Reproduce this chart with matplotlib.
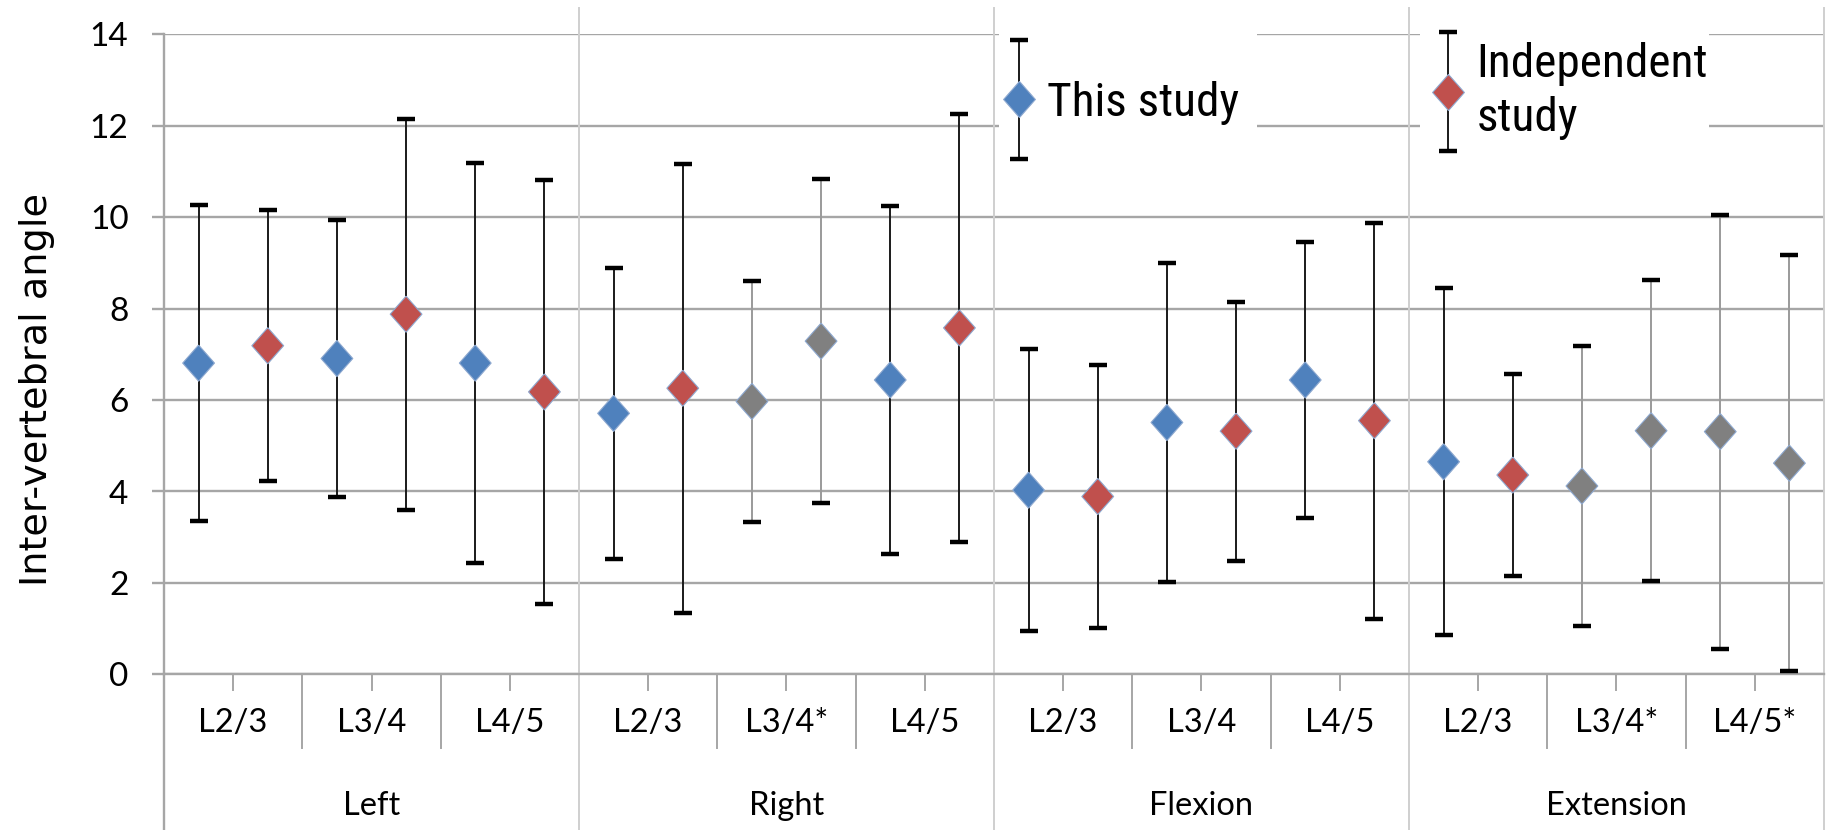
import matplotlib
matplotlib.use("Agg")
import matplotlib.pyplot as plt
import numpy as np
from matplotlib import font_manager
from matplotlib.legend_handler import HandlerErrorbar
from matplotlib.patches import Rectangle
from matplotlib.lines import Line2D

# ---------------- data ----------------
groups = ["Left", "Right", "Flexion", "Extension"]
levels = ["L2/3", "L3/4", "L4/5",
          "L2/3", "L3/4*", "L4/5",
          "L2/3", "L3/4", "L4/5",
          "L2/3", "L3/4*", "L4/5*"]
this_mean = [6.81, 6.91, 6.81, 5.71, 5.97, 6.44, 4.03, 5.51, 6.44, 4.65, 4.12, 5.31]
this_sd = [3.46, 3.03, 4.38, 3.18, 2.63, 3.81, 3.08, 3.50, 3.03, 3.80, 3.07, 4.75]
indep_mean = [7.19, 7.88, 6.18, 6.26, 7.29, 7.58, 3.89, 5.32, 5.55, 4.36, 5.33, 4.62]
indep_sd = [2.96, 4.28, 4.64, 4.91, 3.55, 4.68, 2.87, 2.83, 4.33, 2.21, 3.29, 4.55]
starred = [False, False, False, False, True, False, False, False, False, False, True, True]

BLUE = "#4F81BD"
RED = "#C0504D"
GRAY = "#808080"
EDGE = "#8EA9D0"
GRID = "#a6a6a6"
SEP = "#cfcfcf"

names = {f.name for f in font_manager.fontManager.ttflist}
narrow = "Liberation Sans"
for cand in ("Liberation Sans Narrow", "Arial Narrow", "Roboto Condensed"):
    if cand in names:
        narrow = cand
        break
LFS = 34 if narrow != "Liberation Sans" else 31
tickfont = "Lato" if "Lato" in names else "DejaVu Sans"

W, H = 1832, 830
fig = plt.figure(figsize=(W / 100, H / 100), dpi=100)
L, R, T, B = 164, 1824, 34.5, 674.3
ax = fig.add_axes([L / W, (H - B) / H, (R - L) / W, (B - T) / H])
axh = B - T

def ay(px):
    """pixel row (from top) -> axes fraction"""
    return (B - px) / axh

n = len(levels)
ax.set_xlim(0, 2 * n)
ax.set_ylim(0, 14)
ax.set_yticks(np.arange(0, 15, 2))
ax.yaxis.grid(True, color=GRID, lw=1.7, zorder=0)
ax.set_axisbelow(True)
ax.tick_params(axis="y", direction="out", length=8.6, width=1.7, color=GRID,
               labelsize=24, pad=17)
for lab in ax.get_yticklabels():
    lab.set_fontfamily(tickfont)
ax.set_xticks([])
for s in ("top", "right"):
    ax.spines[s].set_visible(False)
ax.spines["left"].set_color(GRID)
ax.spines["left"].set_linewidth(1.7)
ax.spines["bottom"].set_color(GRID)
ax.spines["bottom"].set_linewidth(1.7)

diamond = [(0, 1), (0.88, 0), (0, -1), (-0.88, 0), (0, 1)]
MS = 26

idx = np.arange(n)
x_this = 2 * idx + 0.5
x_ind = 2 * idx + 1.5

conts = []
for xs, m, sd, col in ((x_this, this_mean, this_sd, BLUE), (x_ind, indep_mean, indep_sd, RED)):
    eb = ax.errorbar(xs, m, yerr=sd, fmt="none", ecolor="black", elinewidth=1.4,
                     capsize=6.5, capthick=3.2, zorder=3)
    linecols = ["#9a9a9a" if st else "#1a1a1a" for st in starred]
    eb[2][0].set_color(linecols)
    cols = [GRAY if st else col for st in starred]
    ax.scatter(xs, m, s=MS ** 2, marker=diamond, c=cols, edgecolors=EDGE,
               linewidths=0.8, zorder=4)
    proxy = ax.errorbar([np.nan], [np.nan], yerr=[1.0], marker=diamond,
                        linestyle="none", ms=MS, mfc=col, mec=EDGE, mew=0.8,
                        ecolor="#1a1a1a", elinewidth=1.4, capsize=6.5, capthick=3.2)
    conts.append(proxy)

xt = ax.get_xaxis_transform()
# group separators (full height, extend below)
for g in range(1, len(groups) + 1):
    xb = 6 * g
    ax.plot([xb, xb], [ay(830), ay(8)], transform=xt, color=SEP, lw=1.4,
            clip_on=False, zorder=1)
ax.plot([0, 0], [ay(830), 0], transform=xt, color=GRID, lw=1.7, clip_on=False)
# subcategory boundaries and centre ticks
for k in range(n):
    ax.plot([2 * k + 1] * 2, [0, ay(690)], transform=xt, color=GRID, lw=1.4, clip_on=False)
    if k % 3 != 0:
        ax.plot([2 * k] * 2, [0, ay(748)], transform=xt, color=GRID, lw=1.4, clip_on=False)
    ax.text(2 * k + 1, ay(723), levels[k], transform=xt, ha="center", va="center",
            fontsize=23.5, family=tickfont)
for g, name in enumerate(groups):
    ax.text(6 * g + 3, ay(806), name, transform=xt, ha="center", va="center",
            fontsize=23.5, family=tickfont)

ax.set_ylabel("Inter-vertebral angle", fontsize=27.5, family="DejaVu Sans")
ax.yaxis.set_label_coords(55 / W, (H - 390) / H, transform=fig.transFigure)

# legend masks
for x0, x1 in ((999, 1257), (1420, 1709)):
    ax.add_patch(Rectangle((x0 / W, (H - 172) / H), (x1 - x0) / W, 168 / H,
                           transform=fig.transFigure, facecolor="white",
                           edgecolor="none", zorder=1.5, clip_on=False))

hm = {type(conts[0]): HandlerErrorbar(yerr_size=1.26 * 34 / LFS)}
fs_px = LFS * 100 / 72
leg1 = ax.legend([conts[0]], ["This study"], loc="center left",
                 bbox_to_anchor=((1019 - 0.25 * fs_px) / W, (H - 103) / H),
                 bbox_transform=fig.transFigure, frameon=False, borderpad=0,
                 borderaxespad=0, handlelength=0.5, handletextpad=0.35,
                 prop={"family": narrow, "size": LFS}, handler_map=hm)
ax.add_artist(leg1)
leg2 = ax.legend([conts[1]], ["Independent\nstudy"], loc="center left",
                 bbox_to_anchor=((1448 - 0.25 * fs_px) / W, (H - 91) / H),
                 bbox_transform=fig.transFigure, frameon=False, borderpad=0,
                 borderaxespad=0, handlelength=0.5, handletextpad=0.35,
                 prop={"family": narrow, "size": LFS}, handler_map=hm)
leg2.get_texts()[0].set_linespacing(1.3)
for lg in (leg1, leg2):
    lg.set_zorder(6)
    for ln in lg.findobj(Line2D):
        if ln.get_marker() == "_":
            ln.set_markeredgewidth(3.2)
            ln.set_markersize(13)
            ln.set_markeredgecolor("black")

fig.savefig("out.png", dpi=100)
